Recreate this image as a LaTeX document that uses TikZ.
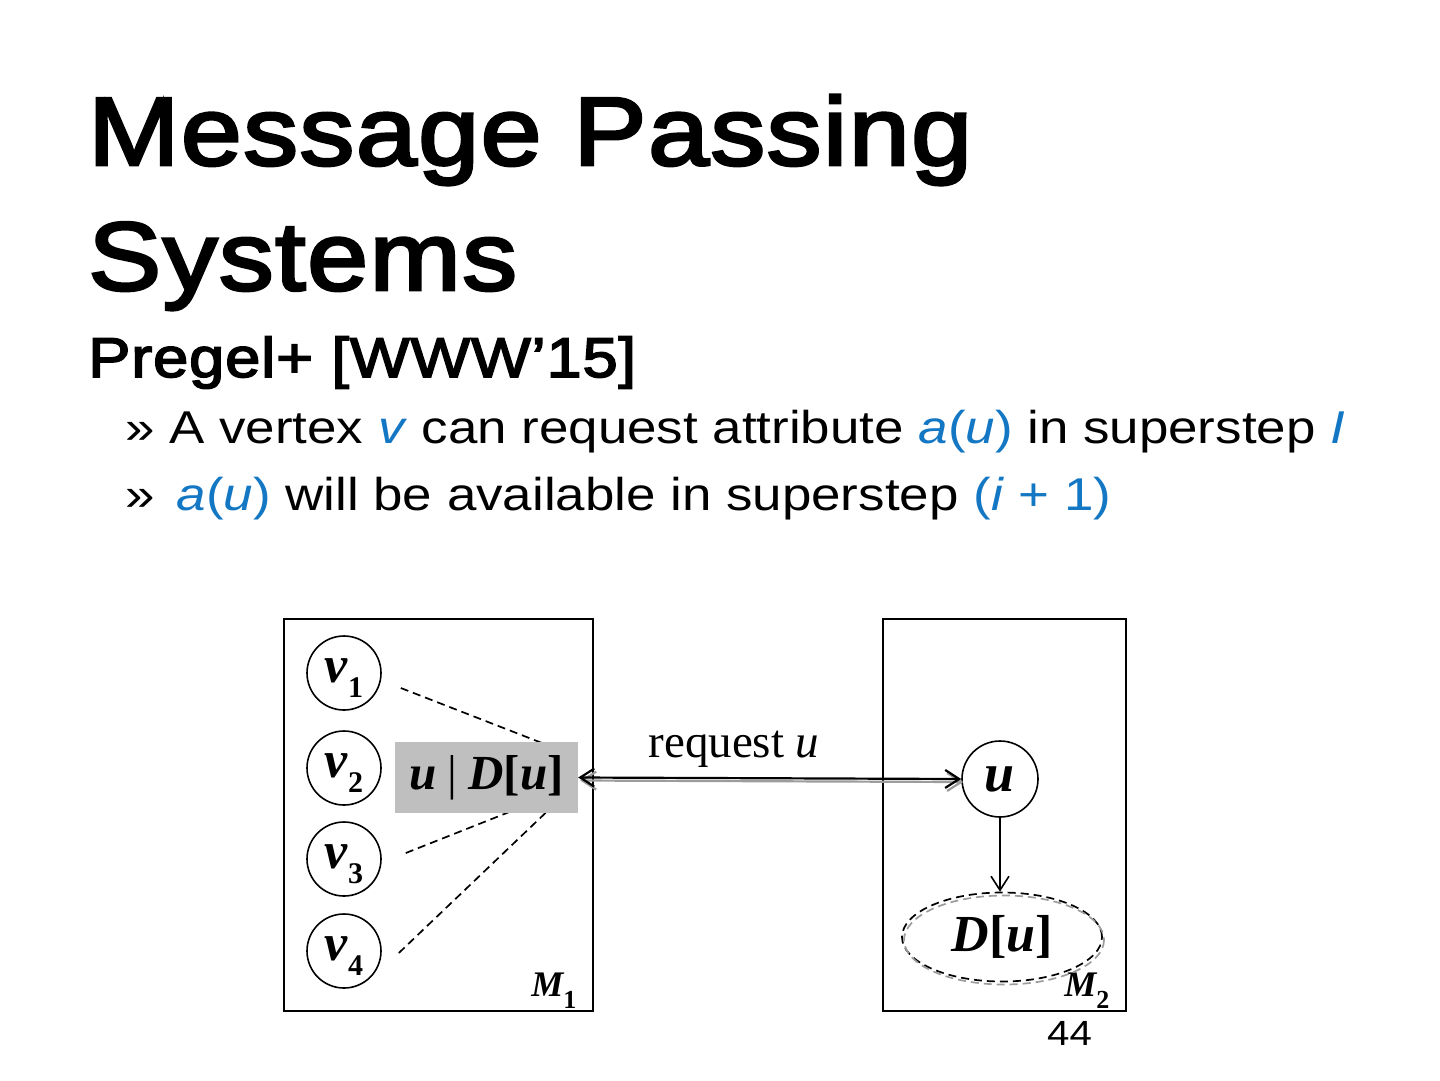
\documentclass[tikz,border=0pt]{standalone}
\usepackage{fontspec}
\setmainfont{Liberation Sans}[FakeStretch=1.15]
\newfontfamily\headfont{Liberation Sans}[FakeStretch=1.13,FakeBold=3,LetterSpace=1.5]
\newfontfamily\dgmfont{Liberation Serif}
\usetikzlibrary{arrows.meta,positioning,calc,shapes.geometric}
\definecolor{Accent}{HTML}{1377C4}
\definecolor{BoxGray}{HTML}{BFBFBF}
\definecolor{Shade}{HTML}{9C9C9C}
\newcommand{\blue}[1]{\textcolor{Accent}{#1}}
\newcommand{\vname}[1]{{\bfseries\itshape v}\raisebox{-15pt}{\fontsize{30}{30}\selectfont\bfseries #1}}
\newcommand{\mname}[1]{{\bfseries\itshape M}\raisebox{-12pt}{\fontsize{26}{26}\selectfont\bfseries #1}}
\tikzset{
 machine/.style={draw, line width=1.6pt, minimum height=392pt, anchor=north west, inner sep=0pt},
 vert/.style={circle, draw, line width=1.6pt, minimum size=74pt, inner sep=0pt, text height=24pt, text depth=6pt, font=\dgmfont\fontsize{52}{52}\selectfont},
 link/.style={line width=1.7pt, dash pattern=on 8pt off 5pt},
 txt/.style={anchor=base west, inner sep=0pt},
 req/.style={{Straight Barb[length=14pt,width=18pt]}-{Straight Barb[length=14pt,width=18pt]}, line width=2.2pt},
 ghost/.style={draw=Shade, transform canvas={shift={(2pt,-3pt)}}}
}
\begin{document}
\begin{tikzpicture}[x=1pt,y=-1pt]
\useasboundingbox[fill=white] (0,0) rectangle (1440,1080);
% heading
\node[txt, font=\headfont\fontsize{97}{97}\selectfont] (title) at (88,165) {Message Passing};
\node[txt, font=\headfont\fontsize{97}{97}\selectfont] (title2) at (88,290) {Systems};
\node[txt, font=\headfont\fontsize{56}{56}\selectfont] (sub) at (88,377) {Pregel+ [WWW’15]};
\node[txt, font=\fontsize{46}{46}\selectfont] (pt1) at (125,443) {» A vertex \blue{\textit{v}} can request attribute \blue{\textit{a}(\textit{u})} in superstep \blue{\textit{I}}};
\node[txt, font=\fontsize{46}{46}\selectfont] (pt2) at (125,510) {»\hspace{22pt}\blue{\textit{a}(\textit{u})} will be available in superstep \blue{(\textit{i} + 1)}};
% machines
\node[machine, minimum width=309pt] (m1) at (283,618) {};
\node[machine, minimum width=243pt] (m2) at (882,618) {};
\node[anchor=base east, inner sep=0pt, font=\dgmfont\fontsize{36}{36}\selectfont] (m1lab) at ($(m1.south east)+(-17,-15)$) {\mname{1}};
\node[anchor=base east, inner sep=0pt, font=\dgmfont\fontsize{36}{36}\selectfont] (m2lab) at ($(m2.south east)+(-17,-15)$) {\mname{2}};
% vertices on M1
\foreach \i/\y in {1/673,2/768,3/859,4/951}
 \node[vert] (v\i) at (344,\y) {\vname{\i}};
\coordinate (h1) at (560,750);
\coordinate (h3) at (532,803);
\coordinate (h4) at (558,801);
\foreach \i/\dx/\dy in {1/19/15,3/24/-6,4/17/2}
 \draw[link] ($(v\i.east)+(\dx,\dy)$) -- (h\i);
\node[fill=BoxGray, minimum width=183pt, minimum height=71pt, inner sep=0pt, font=\dgmfont\fontsize{49}{49}\selectfont\bfseries\itshape] (store) at (486.5,777.5) {u\hspace{11pt}{\upshape\mdseries |}\hspace{11pt}D{\upshape[}u{\upshape]}};
% vertex u on M2
\node[circle, draw, line width=1.6pt, minimum size=76pt, inner sep=0pt, font=\dgmfont\fontsize{54}{54}\selectfont\bfseries\itshape] (u) at (1000,779) {u};
\node[ellipse, draw, link, minimum width=200pt, minimum height=89pt, inner sep=0pt, font=\dgmfont\fontsize{52}{52}\selectfont\bfseries\itshape] (du) at (1002,937) {D{\upshape[}u{\upshape]}};
\draw[link, ghost] (du.center) ellipse [x radius=100, y radius=44.5];
% request
\draw[req, ghost] (store.east) -- (u.west);
\draw[req] (store.east) -- (u.west);
\node[anchor=base, inner sep=0pt, font=\dgmfont\fontsize{47}{47}\selectfont] (reqlab) at (734,757) {request \textit{u}};
\draw[-{Straight Barb[length=14pt,width=18pt]}, line width=1.6pt] (u.south) -- (u.south |- du.north);
\node[txt, font=\fontsize{35}{35}\selectfont] (pgnum) at (1047,1045) {44};
\end{tikzpicture}
\end{document}
